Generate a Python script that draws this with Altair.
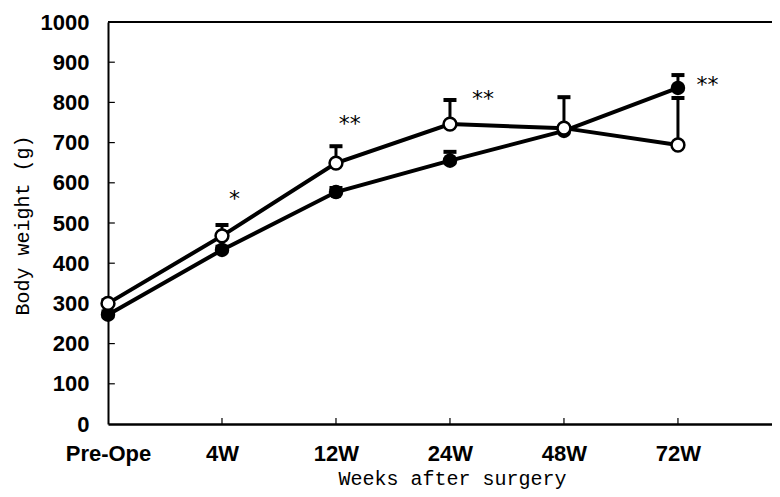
import altair as alt
import pandas as pd

categories = ["Pre-Ope", "4W", "12W", "24W", "48W", "72W"]
filled_mean = [272, 433, 577, 655, 729, 836]
filled_sd = [8, 8, 10, 22, 8, 32]
open_mean = [300, 468, 649, 746, 736, 694]
open_sd = [8, 27, 42, 60, 77, 117]
sig_labels = ["*", "**", "**", "**"]
sig_x = [1.11, 2.12, 3.29, 5.26]
sig_y = [570, 756, 818, 853]
y_ticks = list(range(0, 1001, 100))
x_ticks = list(range(len(categories)))

rows = []
for i, c in enumerate(categories):
    rows.append(dict(idx=i, cat=c, group="filled", mean=filled_mean[i],
                     upper=filled_mean[i] + filled_sd[i]))
    rows.append(dict(idx=i, cat=c, group="open", mean=open_mean[i],
                     upper=open_mean[i] + open_sd[i]))
df = pd.DataFrame(rows)
df_f = df[df.group == "filled"]
df_o = df[df.group == "open"]

sig_df = pd.DataFrame(dict(x=sig_x, y=sig_y, t=sig_labels))
xtick_df = pd.DataFrame(dict(idx=x_ticks[1:], y0=[0] * 5, y1=[15] * 5))
ytick_df = pd.DataFrame(dict(y=y_ticks[1:-1], x0=[0] * 9, x1=[0.06] * 9))

TICK_FONT = "Liberation Sans"
TITLE_FONT = "Liberation Mono"

label_expr = "[" + ",".join("'%s'" % c for c in categories) + "][datum.value]"

xscale = alt.Scale(domain=[0, 5.825], nice=False, zero=False)
yscale = alt.Scale(domain=[0, 1000], nice=False)

xaxis = alt.Axis(values=x_ticks, labelExpr=label_expr, tickSize=0, labelPadding=19,
                 labelFont=TICK_FONT, labelFontSize=22, labelFontWeight="bold",
                 labelColor="black", labelFlush=False, labelOverlap=False,
                 domainColor="black", domainWidth=2.5, grid=False,
                 title="Weeks after surgery", titleFont=TITLE_FONT, titleFontSize=20,
                 titleFontWeight="normal", titleColor="black", titleX=344, titleY=60,
                 titleBaseline="alphabetic", titleAlign="center")
yaxis = alt.Axis(values=y_ticks, format="d", tickSize=0, labelPadding=19,
                 labelFont=TICK_FONT, labelFontSize=22, labelFontWeight="bold",
                 labelColor="black", labelFlush=False, labelOverlap=False,
                 domainColor="black", domainWidth=2, grid=False,
                 title="Body weight (g)", titleFont=TITLE_FONT, titleFontSize=20,
                 titleFontWeight="normal", titleColor="black", titleAngle=270,
                 titleX=-86, titleY=203, titleBaseline="middle", titleAlign="center")

base_x = alt.X("idx:Q", scale=xscale, axis=xaxis)

lines = alt.Chart(df).mark_line(color="black", strokeWidth=4).encode(
    x=base_x,
    y=alt.Y("mean:Q", scale=yscale, axis=yaxis),
    detail="group:N",
)

top_rule = alt.Chart(df).mark_rule(color="black", strokeWidth=2).encode(
    y=alt.datum(1000)
)

xticks = alt.Chart(xtick_df).mark_rule(color="black", strokeWidth=1.2).encode(
    x="idx:Q", y="y0:Q", y2="y1:Q"
)
yticks = alt.Chart(ytick_df).mark_rule(color="black", strokeWidth=1.2).encode(
    x="x0:Q", x2="x1:Q", y="y:Q"
)

err = alt.Chart(df).mark_rule(color="black", strokeWidth=3).encode(
    x="idx:Q", y="mean:Q", y2="upper:Q"
)
caps = alt.Chart(df).mark_tick(color="black", orient="horizontal", thickness=4,
                               size=13, opacity=1).encode(
    x="idx:Q", y="upper:Q"
)

pts_f = alt.Chart(df_f).mark_point(shape="circle", filled=True, color="black",
                                   size=210, opacity=1).encode(
    x="idx:Q", y="mean:Q"
)
pts_o = alt.Chart(df_o).mark_point(shape="circle", filled=True, fill="white",
                                   stroke="black", strokeWidth=2.5, size=165,
                                   opacity=1).encode(
    x="idx:Q", y="mean:Q"
)

sig = alt.Chart(sig_df).mark_text(font="DejaVu Sans", fontSize=22, color="black",
                                  baseline="middle", align="center", dy=4).encode(
    x="x:Q", y="y:Q", text="t:N"
)

chart = alt.layer(lines, top_rule, xticks, yticks, err, caps, pts_f, pts_o, sig).properties(
    width=664, height=402,
    autosize=alt.AutoSizeParams(type="none"),
    padding={"left": 100, "top": 14, "right": 0, "bottom": 65},
    background="white",
).configure_view(stroke=None)

chart.save("out.html", embed_options={"renderer": "svg", "actions": False})
